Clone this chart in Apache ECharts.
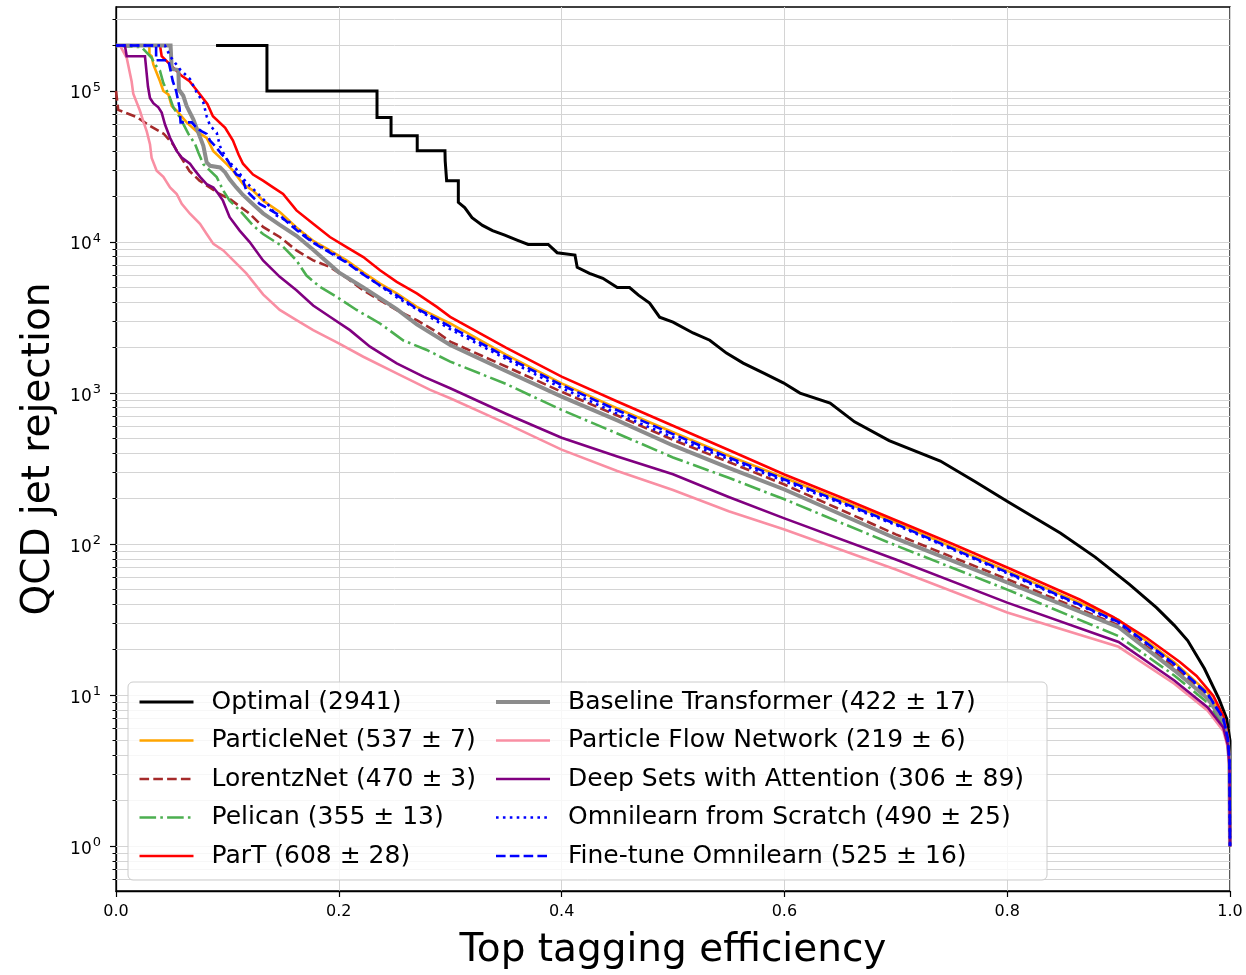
<!DOCTYPE html>
<html>
<head>
<meta charset="utf-8">
<script src="https://cdn.jsdelivr.net/npm/echarts@6/dist/echarts.min.js"></script>
<style>
html,body{margin:0;padding:0;background:#ffffff;}
#chart{width:1246px;height:975px;}
</style>
</head>
<body>
<div id="chart"></div>
<script>
// ---------------- data (efficiency, rejection) ----------------
const seriesNames = [
  'Optimal (2941)',
  'ParticleNet (537 ± 7)',
  'LorentzNet (470 ± 3)',
  'Pelican (355 ± 13)',
  'ParT (608 ± 28)',
  'Baseline Transformer (422 ± 17)',
  'Particle Flow Network (219 ± 6)',
  'Deep Sets with Attention (306 ± 89)',
  'Omnilearn from Scratch (490 ± 25)',
  'Fine-tune Omnilearn (525 ± 16)'
];

const optimal = [[0.0898,2e5],[0.1355,2e5],[0.1355,1e5],[0.2343,1e5],[0.2343,6.67e4],[0.2469,6.67e4],[0.2469,5.05e4],[0.2704,5.05e4],[0.2704,4.02e4],[0.2953,4.02e4],[0.2955,3.45e4],[0.2968,3.45e4],[0.2968,2.55e4],[0.3073,2.55e4],[0.3073,1.83e4],[0.313,1.69e4],[0.3196,1.45e4],[0.329,1.29e4],[0.338,1.19e4],[0.349,1.11e4],[0.36,1.03e4],[0.37,9650],[0.388,9650],[0.396,8500],[0.412,8200],[0.414,6800],[0.425,6200],[0.437,5750],[0.45,5000],[0.461,5000],[0.469,4450],[0.479,3940],[0.488,3180],[0.5,2950],[0.518,2500],[0.533,2240],[0.548,1840],[0.563,1580],[0.581,1360],[0.599,1170],[0.614,1000],[0.641,860],[0.663,645],[0.694,484],[0.74,355],[0.771,260],[0.801,190],[0.848,118],[0.879,82],[0.91,54],[0.934,38],[0.95,29],[0.962,23],[0.977,15],[0.99,9.5],[0.997,7],[1.0,5],[1.0,1]];

const particleNet = [[0,2e5],[0.030,2e5],[0.030,1.75e5],[0.032,1.7e5],[0.0335,1.5e5],[0.0395,1.16e5],[0.0425,1e5],[0.047,9.5e4],[0.05,7.95e4],[0.0545,7.4e4],[0.0634,6.2e4],[0.0724,5.4e4],[0.0814,4.9e4],[0.0874,4e4],[0.0934,3.63e4],[0.0994,3.28e4],[0.105,2.97e4],[0.114,2.42e4],[0.123,2.19e4],[0.132,1.88e4],[0.147,1.58e4],[0.162,1.25e4],[0.177,1.02e4],[0.192,8800],[0.207,7560],[0.222,6300],[0.237,5300],[0.252,4570],[0.27,3720],[0.288,3200],[0.3,2890],[0.35,1800],[0.4,1160],[0.45,790],[0.5,550],[0.55,385],[0.6,275],[0.7,139],[0.8,66.5],[0.9,31.5],[0.95,16.5],[0.98,10.4],[0.994,7.1],[0.998,5.3],[0.9995,3.7],[1.0,1]];

const lorentzNet = [[0,1e5],[0.002,7.5e4],[0.019,6.7e4],[0.03,5.9e4],[0.043,5.2e4],[0.051,4.45e4],[0.066,2.95e4],[0.075,2.55e4],[0.093,2.08e4],[0.102,1.93e4],[0.12,1.54e4],[0.132,1.26e4],[0.147,1.08e4],[0.162,8800],[0.177,7560],[0.192,6840],[0.207,5800],[0.222,4790],[0.237,4120],[0.252,3550],[0.27,3040],[0.288,2540],[0.3,2190],[0.35,1500],[0.4,1020],[0.45,710],[0.5,490],[0.55,350],[0.6,248],[0.7,116],[0.8,58.6],[0.9,29],[0.95,15.3],[0.98,9.8],[0.994,6.8],[0.998,5.1],[0.9995,3.6],[1.0,1]];

const pelican = [[0,2e5],[0.023,1.95e5],[0.032,1.66e5],[0.035,1.5e5],[0.0395,1.36e5],[0.0425,1.13e5],[0.0485,9e4],[0.0514,7.8e4],[0.0575,6.67e4],[0.065,5.2e4],[0.071,4.45e4],[0.0739,3.92e4],[0.0784,3.28e4],[0.0904,2.69e4],[0.0963,2.19e4],[0.102,1.88e4],[0.111,1.62e4],[0.123,1.29e4],[0.132,1.13e4],[0.15,9300],[0.162,7560],[0.171,6000],[0.183,5050],[0.198,4335],[0.216,3550],[0.237,2890],[0.258,2230],[0.279,1930],[0.3,1615],[0.35,1150],[0.4,774],[0.45,540],[0.5,375],[0.55,275],[0.6,198],[0.7,98],[0.8,50],[0.9,24.6],[0.95,13.5],[0.98,8.9],[0.994,6.4],[0.998,4.9],[0.9995,3.5],[1.0,1]];

const parT = [[0,2e5],[0.0395,2e5],[0.041,1.7e5],[0.050,1.46e5],[0.059,1.26e5],[0.066,1.16e5],[0.073,1e5],[0.082,8.2e4],[0.087,6.8e4],[0.098,5.7e4],[0.105,4.7e4],[0.110,3.8e4],[0.114,3.3e4],[0.123,2.8e4],[0.132,2.55e4],[0.141,2.3e4],[0.15,2.08e4],[0.162,1.62e4],[0.177,1.32e4],[0.192,1.08e4],[0.207,9250],[0.222,7950],[0.237,6500],[0.252,5450],[0.27,4570],[0.288,3720],[0.3,3200],[0.35,2000],[0.4,1285],[0.45,880],[0.5,608],[0.55,420],[0.6,289],[0.65,205],[0.7,144],[0.75,101],[0.8,70],[0.865,43],[0.895,33],[0.925,24],[0.955,16.6],[0.97,13.4],[0.985,9.9],[0.994,7.3],[0.998,5.4],[0.9995,3.8],[1.0,1]];

const baseline = [[0,2e5],[0.049,2e5],[0.05,1.4e5],[0.056,1.38e5],[0.0565,1.02e5],[0.0604,9.3e4],[0.0634,7.95e4],[0.0694,6.5e4],[0.0739,5.3e4],[0.0784,4.34e4],[0.0814,3.37e4],[0.0844,3.2e4],[0.0934,3.12e4],[0.098,2.89e4],[0.102,2.6e4],[0.108,2.3e4],[0.114,2.05e4],[0.123,1.78e4],[0.132,1.55e4],[0.147,1.3e4],[0.162,1.1e4],[0.177,8900],[0.2,6300],[0.222,5000],[0.252,3600],[0.27,2850],[0.3,2080],[0.35,1400],[0.4,948],[0.45,660],[0.5,450],[0.55,320],[0.6,230],[0.7,109],[0.8,55.7],[0.9,28.2],[0.95,14.6],[0.98,9.5],[0.994,6.7],[0.998,5],[0.9995,3.6],[1.0,1]];

const pfn = [[0,2e5],[0.0036,2e5],[0.0096,1.66e5],[0.014,1.16e5],[0.0155,9.6e4],[0.0215,7.4e4],[0.0245,6.3e4],[0.0276,5.4e4],[0.0305,4.45e4],[0.032,3.6e4],[0.0365,2.97e4],[0.0425,2.7e4],[0.0485,2.3e4],[0.0545,2.08e4],[0.059,1.79e4],[0.0664,1.54e4],[0.0754,1.32e4],[0.0814,1.13e4],[0.0874,9720],[0.0963,8800],[0.1053,7560],[0.117,6200],[0.132,4500],[0.147,3550],[0.162,3040],[0.177,2610],[0.2,2135],[0.222,1740],[0.252,1350],[0.282,1050],[0.3,925],[0.35,630],[0.4,422],[0.45,305],[0.5,228],[0.55,165],[0.6,125],[0.7,68],[0.8,35.3],[0.9,20.9],[0.95,11.9],[0.98,7.9],[0.994,5.8],[0.998,4.5],[0.9995,3.3],[1.0,1]];

const deepSets = [[0,2e5],[0.008,2e5],[0.0096,1.7e5],[0.026,1.7e5],[0.0287,1.07e5],[0.0305,9e4],[0.0335,8.3e4],[0.038,7.8e4],[0.041,7.2e4],[0.044,6e4],[0.0485,4.9e4],[0.0545,4e4],[0.059,3.63e4],[0.0664,3.3e4],[0.071,2.97e4],[0.0754,2.7e4],[0.0814,2.42e4],[0.0874,2.3e4],[0.092,2.08e4],[0.096,1.88e4],[0.102,1.46e4],[0.111,1.19e4],[0.12,1.0e4],[0.132,7560],[0.147,5880],[0.162,4800],[0.177,3800],[0.192,3200],[0.21,2610],[0.228,2030],[0.252,1575],[0.276,1285],[0.3,1077],[0.35,730],[0.4,506],[0.45,380],[0.5,290],[0.55,205],[0.6,148],[0.7,79],[0.8,41],[0.9,22.5],[0.95,12.5],[0.98,8.3],[0.994,6.1],[0.998,4.7],[0.9995,3.4],[1.0,1]];

const omniScratch = [[0,2e5],[0.044,2e5],[0.0485,1.7e5],[0.0575,1.39e5],[0.0664,1.2e5],[0.0724,9.8e4],[0.0784,8.4e4],[0.0814,6.8e4],[0.0844,5.9e4],[0.0904,5.3e4],[0.0934,4.3e4],[0.0994,3.53e4],[0.108,3.04e4],[0.117,2.48e4],[0.126,2.14e4],[0.135,1.83e4],[0.144,1.5e4],[0.156,1.35e4],[0.177,1.0e4],[0.2,8000],[0.25,4400],[0.3,2650],[0.35,1680],[0.4,1080],[0.45,730],[0.5,510],[0.55,365],[0.6,261],[0.7,134],[0.8,64],[0.9,30.2],[0.95,16],[0.98,10.1],[0.994,7],[0.998,5.2],[0.9995,3.7],[1.0,1]];

const omniFine = [[0,2e5],[0.036,2e5],[0.036,1.6e5],[0.047,1.6e5],[0.049,1.36e5],[0.051,1.16e5],[0.054,1e5],[0.057,7.8e4],[0.058,6.2e4],[0.068,6.2e4],[0.0724,5.7e4],[0.077,5.4e4],[0.0814,5.2e4],[0.0844,4.7e4],[0.0904,4.2e4],[0.0949,3.8e4],[0.0994,3.55e4],[0.104,3.12e4],[0.108,2.8e4],[0.113,2.7e4],[0.117,2.19e4],[0.123,1.98e4],[0.129,1.79e4],[0.147,1.5e4],[0.162,1.2e4],[0.177,9900],[0.192,8500],[0.207,7300],[0.222,6100],[0.237,5150],[0.252,4450],[0.27,3620],[0.288,3100],[0.3,2750],[0.35,1740],[0.4,1130],[0.45,770],[0.5,535],[0.55,375],[0.6,268],[0.7,136],[0.8,65],[0.9,30.5],[0.95,16.1],[0.98,10.2],[0.994,7],[0.998,5.2],[0.9995,3.7],[1.0,1]];

const xTicks = [0, 0.2, 0.4, 0.6, 0.8, 1.0];
const yMajorTicks = [1, 10, 100, 1000, 10000, 100000];
const yMinorTicks = [0.6,0.7,0.8,0.9, 2,3,4,5,6,7,8,9, 20,30,40,50,60,70,80,90, 200,300,400,500,600,700,800,900, 2000,3000,4000,5000,6000,7000,8000,9000, 2e4,3e4,4e4,5e4,6e4,7e4,8e4,9e4, 2e5,3e5];

// ---------------- styles ----------------
const FONT = 'DejaVu Sans';
const seriesData = [optimal, particleNet, lorentzNet, pelican, parT, baseline, pfn, deepSets, omniScratch, omniFine];
const seriesStyles = [
  {color:'#000000', width:3.0, type:'solid'},
  {color:'#FFA500', width:2.6, type:'solid'},
  {color:'#A52A2A', width:2.6, type:[9.6,4.2]},
  {color:'#4CAF50', width:2.6, type:[16.6,4.2,2.6,4.2]},
  {color:'#FF0000', width:2.6, type:'solid'},
  {color:'#8C8C8C', width:4.0, type:'solid'},
  {color:'#F98FA3', width:2.6, type:'solid'},
  {color:'#800080', width:2.6, type:'solid'},
  {color:'#0000FF', width:2.6, type:[2.6,4.3]},
  {color:'#0000FF', width:2.6, type:[9.6,4.2]}
];
function yLabel(v){
  const e = Math.round(Math.log10(v));
  return '{b|10}{s|' + e + '}';
}

const chart = echarts.init(document.getElementById('chart'), null, {renderer:'canvas', width:1246, height:975, devicePixelRatio:1});

const lineSeries = seriesData.map((d, i) => ({
  name: seriesNames[i],
  type: 'line',
  data: d,
  xAxisIndex: 0,
  yAxisIndex: 0,
  symbol: 'none',
  showSymbol: false,
  smooth: false,
  animation: false,
  silent: true,
  z: 2,
  itemStyle: {color: seriesStyles[i].color},
  lineStyle: {color: seriesStyles[i].color, width: seriesStyles[i].width, type: seriesStyles[i].type, cap: 'butt', join: 'miter'},
  emphasis: {disabled: true}
}));

const gridSeries = {
  name: '__grid',
  type: 'line',
  data: [],
  xAxisIndex: 0,
  yAxisIndex: 0,
  symbol: 'none',
  silent: true,
  animation: false,
  z: 1,
  markLine: {
    silent: true,
    z: 1,
    animation: false,
    symbol: ['none', 'none'],
    label: {show: false},
    emphasis: {disabled: true},
    lineStyle: {color: '#d4d4d4', width: 1, type: 'solid'},
    data: yMajorTicks.concat(yMinorTicks).map(v => ({yAxis: v}))
  }
};

const legendCommon = {
  orient: 'vertical',
  padding: 0,
  itemWidth: 54,
  itemHeight: 14,
  itemGap: 12.5,
  selectedMode: false,
  z: 5,
  itemStyle: {opacity: 0, borderWidth: 0},
  lineStyle: {width: 'inherit'},
  textStyle: {fontFamily: FONT, fontSize: 25, color: '#000000', lineHeight: 26, padding: [0, 0, 0, 13]}
};

const option = {
  backgroundColor: '#ffffff',
  animation: false,
  textStyle: {fontFamily: FONT},
  grid: {left: 116, top: 7, width: 1114, height: 886, show: true, borderColor: '#000000', borderWidth: 1.3, backgroundColor: 'transparent', containLabel: false},
  xAxis: {
    type: 'value', min: 0, max: 1, interval: 0.2,
    axisLine: {show: true, onZero: false, lineStyle: {color: '#000000', width: 1.3}},
    axisTick: {show: true, inside: false, length: 6, lineStyle: {color: '#000000', width: 1.2}},
    axisLabel: {formatter: v => v.toFixed(1), fontFamily: FONT, fontSize: 16, color: '#000000', margin: 13},
    splitLine: {show: true, lineStyle: {color: '#d4d4d4', width: 1}},
    name: 'Top tagging efficiency', nameLocation: 'middle', nameGap: 40,
    nameTextStyle: {fontFamily: FONT, fontSize: 39, color: '#000000'}
  },
  yAxis: [
    {
      type: 'log', logBase: 10, min: 0.505, max: 3.6e5, position: 'left',
      axisLine: {show: true, onZero: false, lineStyle: {color: '#000000', width: 1.3}},
      axisTick: {show: true, inside: false, length: 6, customValues: yMajorTicks, lineStyle: {color: '#000000', width: 1.2}},
      axisLabel: {
        customValues: yMajorTicks, formatter: yLabel, color: '#000000', margin: 15,
        rich: {
          b: {fontFamily: FONT, fontSize: 17, color: '#000000', padding: [6, 0, 0, 0]},
          s: {fontFamily: FONT, fontSize: 13, color: '#000000', padding: [0, 0, 7, 1]}
        }
      },
      splitLine: {show: false},
      minorTick: {show: false},
      minorSplitLine: {show: false},
      name: 'QCD jet rejection', nameLocation: 'middle', nameGap: 58,
      nameTextStyle: {fontFamily: FONT, fontSize: 39, color: '#000000'}
    },
    {
      type: 'log', logBase: 10, min: 0.505, max: 3.6e5, position: 'left', offset: 0,
      axisLine: {show: false},
      axisTick: {show: true, inside: false, length: 3.5, customValues: yMinorTicks, lineStyle: {color: '#000000', width: 1}},
      axisLabel: {show: false},
      splitLine: {show: false}
    }
  ],
  legend: [
    Object.assign({}, legendCommon, {data: seriesNames.slice(0, 5), left: 138, top: 689}),
    Object.assign({}, legendCommon, {data: seriesNames.slice(5), left: 494, top: 689})
  ],
  graphic: [{
    type: 'rect', z: 3, silent: true,
    shape: {x: 128, y: 682, width: 919, height: 198, r: 5},
    style: {fill: 'rgba(255,255,255,0.8)', stroke: '#cccccc', lineWidth: 1}
  }],
  series: [gridSeries].concat(lineSeries)
};

chart.setOption(option);
</script>
</body>
</html>
